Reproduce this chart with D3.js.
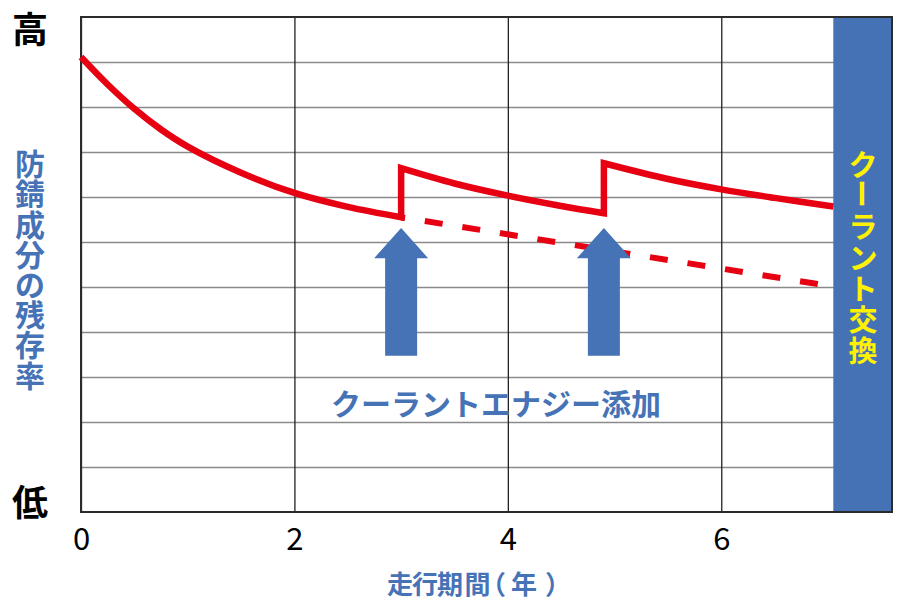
<!DOCTYPE html>
<html>
<head>
<meta charset="utf-8">
<script src="https://cdn.jsdelivr.net/npm/d3@7"></script>
<style>
    body { margin: 0; background: #fff; }
    svg text { font-family: "Noto Sans CJK JP", sans-serif; }
</style>
</head>
<body>
<div id="chart"></div>
<script>
// values (x = years, y = residual level 0..11)
const xTicks = [0, 2, 4, 6];
const gridLevels = [1, 2, 3, 4, 5, 6, 7, 8, 9, 10];

const seg1X = [0, 0.25, 0.5, 0.75, 1, 1.5, 2, 2.5, 3];
const seg1Y = [10.11, 9.5, 8.96, 8.5, 8.12, 7.54, 7.09, 6.78, 6.55];
const seg2X = [3, 3.5, 4, 4.5, 4.9];
const seg2Y = [7.64, 7.3, 7.03, 6.8, 6.64];
const seg3X = [4.9, 5.5, 6, 6.5, 7.05];
const seg3Y = [7.75, 7.4, 7.17, 6.98, 6.79];

const noAddX = [3, 6.92];
const noAddY = [6.55, 5.06];

const addYears = [3, 4.9];
const arrowTip = 6.31, arrowHead = 5.64, arrowBase = 3.47;

const exchangeStart = 7.05;

const hiLabel = "高", loLabel = "低";
const yLabel = "防錆成分の残存率";
const xLabel = ["走", "行", "期", "間", "（", "年", "）"];
const addLabel = "クーラントエナジー添加";
const exchangeLabel = "クーラント交換";

function createChart() {
    const width = 903, height = 602;
    const margin = { top: 17, right: 11, bottom: 90, left: 81 };
    const blue = "#4672b6", red = "#e60012";

    const svg = d3.select("#chart").append("svg")
        .attr("width", width)
        .attr("height", height);

    const x = d3.scaleLinear().domain([0, 7.6]).range([margin.left, width - margin.right]);
    const y = d3.scaleLinear().domain([0, 11]).range([height - margin.bottom, margin.top]);

    // horizontal grid
    svg.append("g")
        .attr("transform", `translate(${x(0)},0)`)
        .call(d3.axisLeft(y).tickValues(gridLevels).tickSize(-(x(7.6) - x(0))).tickFormat(""))
        .call(g => g.select(".domain").remove())
        .call(g => g.selectAll("line").attr("stroke", "#8a8a8a").attr("stroke-width", 1.6));

    // vertical grid + tick labels
    svg.append("g")
        .attr("transform", `translate(0,${y(0)})`)
        .call(d3.axisBottom(x).tickValues(xTicks).tickSize(-(y(0) - y(11))).tickFormat(d3.format("d")))
        .call(g => g.select(".domain").remove())
        .call(g => g.selectAll("line").attr("stroke", "#222").attr("stroke-width", 1.3))
        .call(g => g.selectAll("text")
            .attr("y", 24).attr("dy", null)
            .attr("dominant-baseline", "central")
            .attr("fill", "#000")
            .style("font-size", "31px"));

    // coolant exchange bar
    svg.append("rect")
        .attr("x", x(exchangeStart))
        .attr("y", y(11))
        .attr("width", x(7.6) - x(exchangeStart))
        .attr("height", y(0) - y(11))
        .attr("fill", "#4572b4");

    // frame
    svg.append("rect")
        .attr("x", x(0)).attr("y", y(11))
        .attr("width", x(7.6) - x(0))
        .attr("height", y(0) - y(11))
        .attr("fill", "none")
        .attr("stroke", "#2b2b2b")
        .attr("stroke-width", 2);

    // dashed: no additive
    svg.append("path")
        .attr("d", d3.line().x(d => x(d[0])).y(d => y(d[1]))(d3.zip(noAddX, noAddY)))
        .attr("fill", "none")
        .attr("stroke", red)
        .attr("stroke-width", 6)
        .attr("stroke-dasharray", "18,20")
        .attr("stroke-dashoffset", 14);

    // solid: with additive
    const line = d3.line().x(d => x(d[0])).y(d => y(d[1])).curve(d3.curveCatmullRom.alpha(0.5));
    const segs = [d3.zip(seg1X, seg1Y), d3.zip(seg2X, seg2Y), d3.zip(seg3X, seg3Y)];
    const d = segs.map((s, i) => i === 0 ? line(s) : line(s).replace(/^M/, "L")).join("");
    svg.append("path")
        .attr("d", d)
        .attr("fill", "none")
        .attr("stroke", red)
        .attr("stroke-width", 6.5)
        .attr("stroke-linejoin", "miter");

    // arrows
    svg.selectAll(".arrow")
        .data(addYears)
        .enter().append("path")
        .attr("class", "arrow")
        .attr("fill", blue)
        .attr("d", t => {
            const cx = x(t), hw = 27, sw = 16;
            return `M${cx},${y(arrowTip)} L${cx + hw},${y(arrowHead)} L${cx + sw},${y(arrowHead)}` +
                `L${cx + sw},${y(arrowBase)} L${cx - sw},${y(arrowBase)} L${cx - sw},${y(arrowHead)}` +
                `L${cx - hw},${y(arrowHead)} Z`;
        });

    svg.append("text")
        .attr("x", 496).attr("y", 402)
        .attr("text-anchor", "middle")
        .attr("dominant-baseline", "central")
        .attr("fill", blue)
        .style("font-size", "30px")
        .style("font-weight", "bold")
        .text(addLabel);

    // high / low
    svg.append("text")
        .attr("x", 30).attr("y", 27)
        .attr("text-anchor", "middle").attr("dominant-baseline", "central")
        .style("font-size", "36px").style("font-weight", "bold")
        .text(hiLabel);
    svg.append("text")
        .attr("x", 30).attr("y", 500)
        .attr("text-anchor", "middle").attr("dominant-baseline", "central")
        .style("font-size", "36px").style("font-weight", "bold")
        .text(loLabel);

    // vertical labels, one glyph per step
    function verticalText(chars, cx, top, step, size, color) {
        const g = svg.append("g");
        g.selectAll("text")
            .data(Array.from(chars))
            .enter().append("text")
            .attr("text-anchor", "middle")
            .attr("dominant-baseline", "central")
            .attr("fill", color)
            .style("font-size", size + "px")
            .style("font-weight", "bold")
            .attr("transform", (c, i) => {
                const cy = top + step * (i + 0.5);
                return `translate(${cx},${cy})` + (c === "ー" ? " rotate(90)" : "");
            })
            .text(c => c);
    }
    verticalText(yLabel, 30, 147, 30.2, 30, blue);
    verticalText(exchangeLabel, 863, 147, 31, 29, "#fff200");

    // x title, glyph centres as measured (full-width parens sit off-centre in their box)
    const xLabelPos = [400, 425, 450, 477.5, 493, 524, 558];
    svg.append("text")
        .attr("y", 582)
        .attr("dominant-baseline", "central")
        .attr("fill", blue)
        .style("font-size", "26px").style("font-weight", "bold")
        .selectAll("tspan")
        .data(xLabel)
        .enter().append("tspan")
        .attr("x", (c, i) => xLabelPos[i])
        .attr("text-anchor", "middle")
        .text(c => c);
}

document.addEventListener("DOMContentLoaded", createChart);
</script>
</body>
</html>
